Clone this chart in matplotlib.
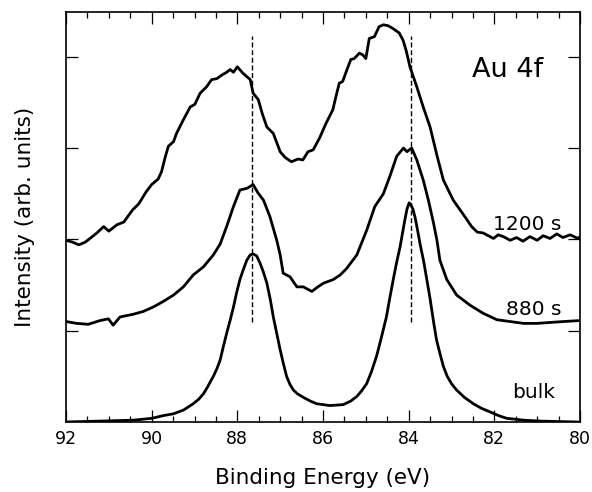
import matplotlib
matplotlib.use("Agg")
import matplotlib.pyplot as plt
from matplotlib.ticker import MultipleLocator

plt.rcParams['font.family'] = ['DejaVu Sans']

# ---- data (binding energy in eV, intensity in arb. units) ----
e_1200 = [92.00, 91.85, 91.70, 91.55, 91.44, 91.28, 91.12, 91.00, 90.81, 90.65, 90.45, 90.30,
          90.13, 90.00, 89.85, 89.77, 89.69, 89.61, 89.49, 89.42, 89.26, 89.10,
          88.99, 88.87, 88.72, 88.60, 88.48, 88.36, 88.25, 88.17, 88.09, 88.00,
          87.87, 87.70, 87.63, 87.51, 87.42, 87.31, 87.16, 87.00, 86.89, 86.74,
          86.58, 86.47, 86.35, 86.23, 86.08, 85.93, 85.77, 85.70, 85.62, 85.54,
          85.44, 85.35, 85.27, 85.15, 85.07, 85.00, 84.92, 84.80, 84.69, 84.59,
          84.48, 84.37, 84.22, 84.13, 84.06, 83.97, 83.81, 83.66, 83.50, 83.34,
          83.19, 82.96, 82.72, 82.53, 82.40, 82.26, 82.10, 82.02, 81.91, 81.79,
          81.63, 81.48, 81.33, 81.17, 81.00, 80.86, 80.70, 80.54, 80.40, 80.23,
          80.05, 80.00]
i_1200 = [1.99, 1.97, 1.94, 1.97, 2.01, 2.07, 2.14, 2.09, 2.16, 2.19, 2.32, 2.39,
          2.52, 2.60, 2.66, 2.74, 2.89, 3.02, 3.07, 3.16, 3.31, 3.45,
          3.48, 3.60, 3.67, 3.75, 3.76, 3.80, 3.83, 3.86, 3.83, 3.89,
          3.82, 3.75, 3.60, 3.53, 3.38, 3.23, 3.16, 2.96, 2.90, 2.85,
          2.88, 2.87, 2.96, 2.98, 3.11, 3.27, 3.42, 3.56, 3.71, 3.73,
          3.86, 3.97, 3.98, 4.04, 4.02, 3.98, 4.20, 4.22, 4.33, 4.35,
          4.34, 4.31, 4.26, 4.18, 4.07, 3.89, 3.67, 3.45, 3.23, 2.92,
          2.65, 2.43, 2.27, 2.14, 2.08, 2.07, 2.03, 2.01, 2.05, 2.03,
          1.99, 2.02, 1.98, 2.03, 1.99, 2.04, 2.01, 2.06, 2.02, 2.05,
          2.01, 2.03]

e_880 = [92.00, 91.75, 91.48, 91.21, 91.01, 90.90, 90.74, 90.43, 90.20, 89.96,
         89.73, 89.49, 89.26, 89.03, 88.79, 88.56, 88.40, 88.25, 88.09, 87.94,
         87.77, 87.63, 87.52, 87.39, 87.24, 87.08, 87.00, 86.93, 86.77, 86.61,
         86.46, 86.26, 86.12, 85.99, 85.76, 85.60, 85.45, 85.21, 84.98, 84.79,
         84.59, 84.44, 84.28, 84.12, 84.04, 83.93, 83.81, 83.66, 83.54, 83.42,
         83.34, 83.27, 83.11, 82.88, 82.57, 82.26, 81.94, 81.63, 81.32, 81.01,
         80.70, 80.39, 80.04]
i_880 = [1.10, 1.08, 1.07, 1.11, 1.13, 1.06, 1.15, 1.18, 1.21, 1.26,
         1.32, 1.39, 1.48, 1.61, 1.70, 1.83, 1.95, 2.14, 2.36, 2.54,
         2.56, 2.60, 2.51, 2.43, 2.25, 1.99, 1.83, 1.63, 1.59, 1.48,
         1.48, 1.43, 1.48, 1.52, 1.56, 1.61, 1.68, 1.83, 2.10, 2.36,
         2.50, 2.69, 2.91, 3.00, 2.96, 3.00, 2.87, 2.65, 2.43, 2.18,
         1.99, 1.77, 1.56, 1.39, 1.28, 1.19, 1.12, 1.10, 1.08, 1.08,
         1.09, 1.10, 1.11]

e_bulk = [92.00, 91.21, 90.43, 90.00, 89.73, 89.49, 89.26, 89.03, 88.90, 88.79,
          88.70, 88.56, 88.48, 88.40, 88.33, 88.25, 88.17, 88.09, 88.02, 87.94,
          87.86, 87.78, 87.70, 87.63, 87.55, 87.47, 87.39, 87.31, 87.23, 87.16,
          87.08, 87.00, 86.92, 86.85, 86.77, 86.69, 86.60, 86.46, 86.30, 86.15,
          85.84, 85.53, 85.35, 85.21, 85.10, 84.98, 84.87, 84.75, 84.64, 84.52,
          84.44, 84.36, 84.28, 84.20, 84.14, 84.09, 84.04, 83.99, 83.95, 83.90,
          83.85, 83.80, 83.73, 83.65, 83.58, 83.50, 83.42, 83.35, 83.27, 83.19,
          83.10, 83.00, 82.88, 82.70, 82.49, 82.30, 82.10, 81.90, 81.71, 81.50,
          81.32, 80.93, 80.50, 80.04]
i_bulk = [0.00, 0.01, 0.02, 0.04, 0.07, 0.09, 0.13, 0.20, 0.25, 0.31,
          0.38, 0.50, 0.58, 0.68, 0.82, 0.97, 1.11, 1.26, 1.41, 1.56,
          1.67, 1.77, 1.83, 1.84, 1.82, 1.74, 1.64, 1.52, 1.34, 1.15,
          0.97, 0.79, 0.63, 0.50, 0.41, 0.35, 0.31, 0.27, 0.23, 0.20,
          0.18, 0.19, 0.23, 0.28, 0.34, 0.42, 0.55, 0.72, 0.92, 1.15,
          1.36, 1.56, 1.75, 1.92, 2.08, 2.21, 2.33, 2.40, 2.38, 2.33,
          2.24, 2.12, 1.94, 1.76, 1.57, 1.35, 1.10, 0.90, 0.75, 0.61,
          0.50, 0.42, 0.35, 0.27, 0.20, 0.15, 0.11, 0.07, 0.04, 0.03,
          0.02, 0.01, 0.005, 0.00]

peak_positions = [87.65, 83.95]
series_labels = ["1200 s", "880 s", "bulk"]
title_text = "Au 4f"

# ---- figure ----
fig = plt.figure(figsize=(5.92, 4.92), dpi=100)
ax = fig.add_axes([66/592, 1-422/492, 514/592, 410/492])

lw = 2.0
for xs, ys in [(e_1200, i_1200), (e_880, i_880), (e_bulk, i_bulk)]:
    ax.plot(xs, ys, color='black', lw=lw, solid_joinstyle='round', solid_capstyle='round')

for p in peak_positions:
    ax.plot([p, p], [1.095, 4.23], color='black', lw=1.0, dashes=(3.6, 1.9))

ax.set_xlim(92, 80)
ax.set_ylim(0, 4.49)
ax.xaxis.set_major_locator(MultipleLocator(2))
ax.xaxis.set_minor_locator(MultipleLocator(0.5))
ax.set_yticks([1, 2, 3, 4])
ax.tick_params(axis='both', which='both', direction='in', top=True, right=True, width=0.9)
ax.tick_params(axis='x', which='major', length=8.5, labelsize=12.5, pad=6)
ax.tick_params(axis='x', which='minor', length=4.5)
ax.tick_params(axis='y', which='major', length=8.5, labelleft=False, labelright=False)
ax.set_xticklabels([f"{int(t)}" for t in ax.get_xticks()])
for s in ax.spines.values():
    s.set_linewidth(1.2)

ax.set_xlabel("Binding Energy (eV)", fontsize=15.5, labelpad=14)
ax.set_ylabel("Intensity (arb. units)", fontsize=15.5, labelpad=22)

ax.text(80.43, 2.10, series_labels[0], fontsize=14.5, ha='right', va='baseline')
ax.text(80.43, 1.17, series_labels[1], fontsize=14.5, ha='right', va='baseline')
ax.text(80.58, 0.26, series_labels[2], fontsize=14.5, ha='right', va='baseline')
ax.text(82.53, 3.78, title_text, fontsize=19.5, ha='left', va='baseline')

fig.savefig("out.png", dpi=100)
